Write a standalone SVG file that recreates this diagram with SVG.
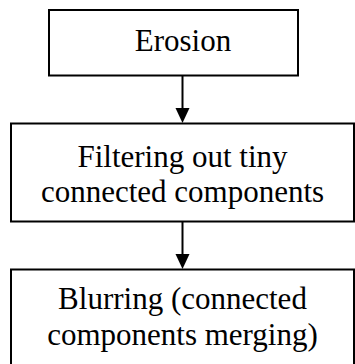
<svg xmlns="http://www.w3.org/2000/svg" width="355" height="364" viewBox="0 0 355 364">
<style>
.box{fill:#fff;stroke:#000;stroke-width:2}
.t{font-family:"Liberation Serif","Times New Roman",serif;font-size:31px;fill:#000;text-anchor:middle}
.c{stroke:#000;stroke-width:2;fill:none}
.ah{fill:#000}
</style>
<rect width="355" height="364" fill="#fff"/>
<g id="node-erosion">
<rect class="box" x="49" y="10" width="249" height="65.5"/>
<text class="t" x="183" y="51">Erosion</text>
</g>
<g id="node-filtering">
<rect class="box" x="11" y="123.5" width="343" height="98"/>
<text class="t" x="182.5" y="167">Filtering out tiny</text>
<text class="t" x="182.5" y="202">connected components</text>
</g>
<g id="node-blurring">
<rect class="box" x="11" y="269.5" width="343" height="110"/>
<text class="t" x="182.5" y="309">Blurring (connected</text>
<text class="t" x="182.5" y="345">components merging)</text>
</g>
<g id="connectors">
<line class="c" x1="182.5" y1="75.5" x2="182.5" y2="110"/>
<path class="ah" d="M175.5,108 L189.5,108 L182.5,123 Z"/>
<line class="c" x1="182.5" y1="221.5" x2="182.5" y2="256"/>
<path class="ah" d="M175.5,254 L189.5,254 L182.5,269 Z"/>
</g>
</svg>
